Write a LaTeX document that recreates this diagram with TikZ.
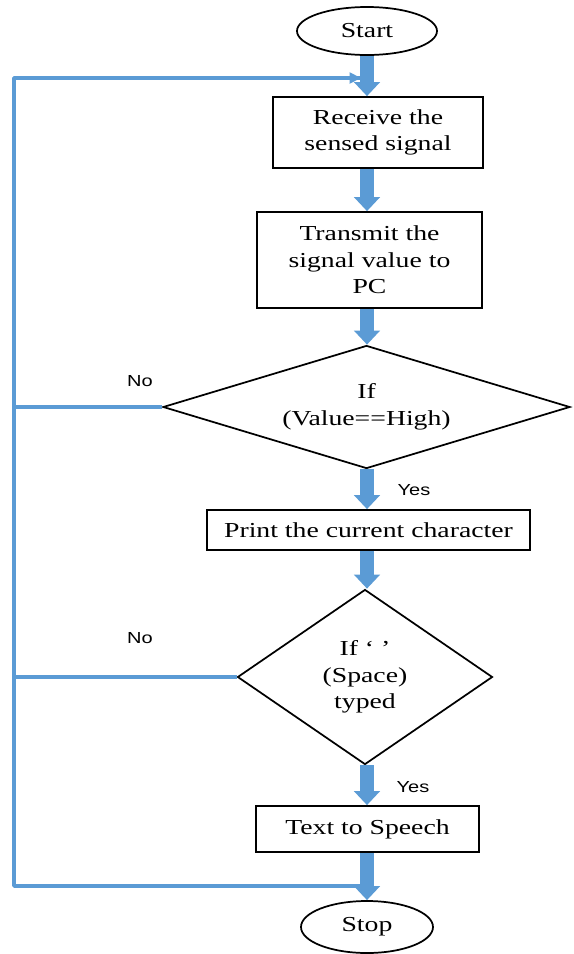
\documentclass[tikz,border=0pt]{standalone}
\usepackage{fontspec}
\setmainfont{Liberation Serif}[FakeStretch=1.3]
\newfontfamily\labelfont{Liberation Sans}[FakeStretch=1.25]
\usetikzlibrary{shapes.geometric,arrows.meta}
\definecolor{flowblue}{HTML}{5B9BD5}
\tikzset{
  boxnode/.style={draw=black,line width=1.3pt,rectangle,inner sep=0pt,align=center,font=\fontsize{16}{20}\selectfont},
  termnode/.style={draw=black,line width=1.3pt,ellipse,inner sep=0pt,align=center,font=\fontsize{16}{20}\selectfont},
  decnode/.style={draw=black,line width=1.3pt,diamond,inner sep=0pt,align=center,font=\fontsize{16}{20}\selectfont},
  bigarrow/.style={draw=flowblue,line width=10.5pt,-{Triangle[width=19pt,length=10.5pt]}},
  loopline/.style={draw=flowblue,line width=2.6pt},
  looparrow/.style={loopline,-{Triangle[width=8pt,length=8.5pt]}},
  lbl/.style={font=\labelfont\fontsize{12}{14}\selectfont,inner sep=0pt}
}
\begin{document}
\begin{tikzpicture}[x=0.75pt,y=-0.75pt]
\useasboundingbox (0,0) rectangle (574,954);
% nodes
\node[termnode,minimum width=105pt,minimum height=36pt] (start) at (367,31) {Start};
\node[boxnode,minimum width=157.5pt,minimum height=53.25pt] (recv) at (378,132.5) {Receive the\\sensed signal};
\node[boxnode,minimum width=168.75pt,minimum height=72pt] (trans) at (369.5,260) {Transmit the\\signal value to\\PC};
\node[decnode,shape aspect=3.3,minimum width=305.25pt,minimum height=92.25pt] (dia1) at (366.5,407) {If\\(Value==High)};
\node[boxnode,minimum width=242.25pt,minimum height=30pt] (print) at (368.5,530) {Print the current character};
\node[decnode,shape aspect=1.46,minimum width=191.25pt,minimum height=131.25pt] (dia2) at (365,677) {If ‘ ’\\(Space)\\typed};
\node[boxnode,minimum width=167.25pt,minimum height=34.5pt] (tts) at (367.5,829) {Text to Speech};
\node[termnode,minimum width=99pt,minimum height=39pt] (stop) at (367,927) {Stop};
% labels
\node[lbl] (no1) at (140,381) {No};
\node[lbl] (no2) at (140,638) {No};
\node[lbl] (yes1) at (414,490) {Yes};
\node[lbl] (yes2) at (413,787) {Yes};
% loop coordinates
\coordinate (ltop) at (14,78);
\coordinate (lbot) at (14,886);
\coordinate (loopin) at (361,78);
\coordinate (loopout) at (362,886);
% loop lines
\draw[loopline] (dia1.west) -- (dia1.west -| ltop);
\draw[loopline] (dia2.west) -- (dia2.west -| ltop);
\draw[loopline,line join=round] (loopout) -- (lbot) -- (ltop) -- (loopin);
\draw[looparrow] (ltop) -- (loopin);
% thick arrows
\draw[bigarrow] (start.south) -- (recv.north -| start);
\draw[bigarrow] (recv.south -| start) -- (trans.north -| start);
\draw[bigarrow] (trans.south -| start) -- (dia1.north -| start);
\draw[bigarrow] (dia1.south -| start) -- (print.north -| start);
\draw[bigarrow] (print.south -| start) -- (dia2.north -| start);
\draw[bigarrow] (dia2.south -| start) -- (tts.north -| start);
\draw[bigarrow] (tts.south -| start) -- (stop.north);
\end{tikzpicture}
\end{document}
